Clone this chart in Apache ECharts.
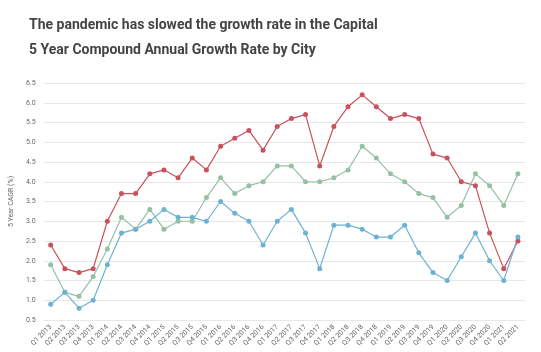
<!DOCTYPE html>
<html>
<head>
<meta charset="utf-8">
<script src="https://cdn.jsdelivr.net/npm/echarts@6/dist/echarts.min.js"></script>
<style>
  html, body { margin: 0; padding: 0; background: #fff; }
  #chart { width: 541px; height: 352px; }
</style>
</head>
<body>
<div id="chart"></div>
<script>
const quarters = [
  'Q1 2013', 'Q2 2013', 'Q3 2013', 'Q4 2013',
  'Q1 2014', 'Q2 2014', 'Q3 2014', 'Q4 2014',
  'Q1 2015', 'Q2 2015', 'Q3 2015', 'Q4 2015',
  'Q1 2016', 'Q2 2016', 'Q3 2016', 'Q4 2016',
  'Q1 2017', 'Q2 2017', 'Q3 2017', 'Q4 2017',
  'Q1 2018', 'Q2 2018', 'Q3 2018', 'Q4 2018',
  'Q1 2019', 'Q2 2019', 'Q3 2019', 'Q4 2019',
  'Q1 2020', 'Q2 2020', 'Q3 2020', 'Q4 2020',
  'Q1 2021', 'Q2 2021'
];
// three cities, no legend in the original
const redSeries = [2.4, 1.8, 1.7, 1.8, 3.0, 3.7, 3.7, 4.2, 4.3, 4.1, 4.6, 4.3, 4.9, 5.1, 5.3, 4.8, 5.4, 5.6, 5.7, 4.4, 5.4, 5.9, 6.2, 5.9, 5.6, 5.7, 5.6, 4.7, 4.6, 4.0, 3.9, 2.7, 1.8, 2.5];
const greenSeries = [1.9, 1.2, 1.1, 1.6, 2.3, 3.1, 2.8, 3.3, 2.8, 3.0, 3.0, 3.6, 4.1, 3.7, 3.9, 4.0, 4.4, 4.4, 4.0, 4.0, 4.1, 4.3, 4.9, 4.6, 4.2, 4.0, 3.7, 3.6, 3.1, 3.4, 4.2, 3.9, 3.4, 4.2];
const blueSeries = [0.9, 1.2, 0.8, 1.0, 1.9, 2.7, 2.8, 3.0, 3.3, 3.1, 3.1, 3.0, 3.5, 3.2, 3.0, 2.4, 3.0, 3.3, 2.7, 1.8, 2.9, 2.9, 2.8, 2.6, 2.6, 2.9, 2.2, 1.7, 1.5, 2.1, 2.7, 2.0, 1.5, 2.6];

const colors = ['#c9515c', '#95c0a6', '#6eb2d1'];

const chart = echarts.init(document.getElementById('chart'));

const makeLine = (data, color) => ({
  type: 'line',
  data: data,
  symbol: 'circle',
  symbolSize: 5,
  itemStyle: { color: color },
  lineStyle: { color: color, width: 1.2 },
  emphasis: { disabled: true }
});

chart.setOption({
  animation: false,
  textStyle: { fontFamily: 'Roboto' },
  title: [
    {
      text: 'The pandemic has slowed the growth rate in the Capital',
      left: 29, top: 18, padding: 0,
      textStyle: { fontSize: 14, fontWeight: 'bold', color: '#444' }
    },
    {
      text: '5 Year Compound Annual Growth Rate by City',
      left: 29, top: 43, padding: 0,
      textStyle: { fontSize: 14, fontWeight: 'bold', color: '#444' }
    }
  ],
  grid: { left: 39, right: 16, top: 83, bottom: 32 },
  xAxis: {
    type: 'category',
    data: quarters,
    boundaryGap: true,
    axisLine: { show: false },
    axisTick: { show: false },
    axisLabel: {
      interval: 0,
      rotate: 45,
      fontSize: 7,
      color: '#666',
      margin: 6
    }
  },
  yAxis: {
    type: 'value',
    min: 0.5,
    max: 6.5,
    interval: 0.5,
    name: '5 Year CAGR (%)',
    nameLocation: 'middle',
    nameGap: 20,
    nameTextStyle: { fontSize: 7, color: '#666' },
    axisLine: { show: false },
    axisTick: { show: false },
    axisLabel: {
      fontSize: 7,
      color: '#666',
      formatter: v => v.toFixed(1)
    },
    splitLine: { lineStyle: { color: '#e8e8e8', width: 1 } }
  },
  series: [
    makeLine(redSeries, colors[0]),
    makeLine(greenSeries, colors[1]),
    makeLine(blueSeries, colors[2])
  ]
});
</script>
</body>
</html>
